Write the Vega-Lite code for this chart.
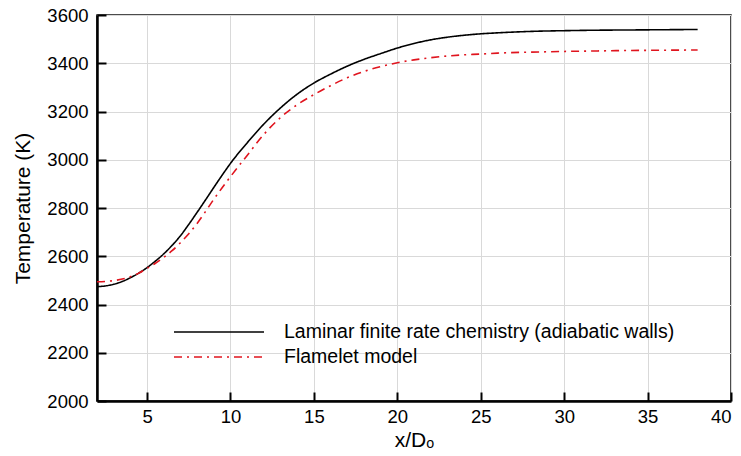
{
  "$schema": "https://vega.github.io/schema/vega-lite/v6.json",
  "width": 634,
  "height": 386,
  "autosize": {"type": "none"},
  "padding": {"left": 97, "top": 15, "right": 10, "bottom": 55},
  "background": "white",
  "config": {
    "font": "Liberation Sans",
    "view": {"stroke": "#111", "strokeWidth": 1.5},
    "axis": {
      "domainColor": "#000", "domainWidth": 2.5,
      "tickColor": "#000", "tickWidth": 2, "tickSize": -9,
      "gridColor": "#d9d9d9", "gridWidth": 1,
      "labelFont": "Liberation Sans", "labelFontSize": 18.5, "labelColor": "#000",
      "titleFont": "Liberation Sans", "titleFontSize": 21, "titleFontWeight": "normal", "titleColor": "#000"
    },
    "legend": {"padding": 0}
  },
  "data": {"values": [
    {"series": "Laminar finite rate chemistry (adiabatic walls)", "x": 2, "T": 2474},
    {"series": "Laminar finite rate chemistry (adiabatic walls)", "x": 2.5, "T": 2477},
    {"series": "Laminar finite rate chemistry (adiabatic walls)", "x": 3, "T": 2484},
    {"series": "Laminar finite rate chemistry (adiabatic walls)", "x": 3.5, "T": 2495},
    {"series": "Laminar finite rate chemistry (adiabatic walls)", "x": 4, "T": 2511},
    {"series": "Laminar finite rate chemistry (adiabatic walls)", "x": 4.5, "T": 2530},
    {"series": "Laminar finite rate chemistry (adiabatic walls)", "x": 5, "T": 2553},
    {"series": "Laminar finite rate chemistry (adiabatic walls)", "x": 5.5, "T": 2580},
    {"series": "Laminar finite rate chemistry (adiabatic walls)", "x": 6, "T": 2610},
    {"series": "Laminar finite rate chemistry (adiabatic walls)", "x": 6.5, "T": 2645},
    {"series": "Laminar finite rate chemistry (adiabatic walls)", "x": 7, "T": 2685},
    {"series": "Laminar finite rate chemistry (adiabatic walls)", "x": 7.5, "T": 2732},
    {"series": "Laminar finite rate chemistry (adiabatic walls)", "x": 8, "T": 2782},
    {"series": "Laminar finite rate chemistry (adiabatic walls)", "x": 8.5, "T": 2833},
    {"series": "Laminar finite rate chemistry (adiabatic walls)", "x": 9, "T": 2885},
    {"series": "Laminar finite rate chemistry (adiabatic walls)", "x": 9.5, "T": 2936},
    {"series": "Laminar finite rate chemistry (adiabatic walls)", "x": 10, "T": 2985},
    {"series": "Laminar finite rate chemistry (adiabatic walls)", "x": 11, "T": 3070},
    {"series": "Laminar finite rate chemistry (adiabatic walls)", "x": 12, "T": 3148},
    {"series": "Laminar finite rate chemistry (adiabatic walls)", "x": 13, "T": 3215},
    {"series": "Laminar finite rate chemistry (adiabatic walls)", "x": 14, "T": 3272},
    {"series": "Laminar finite rate chemistry (adiabatic walls)", "x": 15, "T": 3318},
    {"series": "Laminar finite rate chemistry (adiabatic walls)", "x": 16, "T": 3355},
    {"series": "Laminar finite rate chemistry (adiabatic walls)", "x": 17, "T": 3388},
    {"series": "Laminar finite rate chemistry (adiabatic walls)", "x": 18, "T": 3416},
    {"series": "Laminar finite rate chemistry (adiabatic walls)", "x": 19, "T": 3440},
    {"series": "Laminar finite rate chemistry (adiabatic walls)", "x": 20, "T": 3463},
    {"series": "Laminar finite rate chemistry (adiabatic walls)", "x": 21, "T": 3482},
    {"series": "Laminar finite rate chemistry (adiabatic walls)", "x": 22, "T": 3497},
    {"series": "Laminar finite rate chemistry (adiabatic walls)", "x": 23, "T": 3508},
    {"series": "Laminar finite rate chemistry (adiabatic walls)", "x": 24, "T": 3516},
    {"series": "Laminar finite rate chemistry (adiabatic walls)", "x": 25, "T": 3522},
    {"series": "Laminar finite rate chemistry (adiabatic walls)", "x": 26, "T": 3526},
    {"series": "Laminar finite rate chemistry (adiabatic walls)", "x": 28, "T": 3532},
    {"series": "Laminar finite rate chemistry (adiabatic walls)", "x": 30, "T": 3535},
    {"series": "Laminar finite rate chemistry (adiabatic walls)", "x": 32, "T": 3537},
    {"series": "Laminar finite rate chemistry (adiabatic walls)", "x": 34, "T": 3538},
    {"series": "Laminar finite rate chemistry (adiabatic walls)", "x": 36, "T": 3539},
    {"series": "Laminar finite rate chemistry (adiabatic walls)", "x": 38, "T": 3540},
    {"series": "Flamelet model", "x": 2, "T": 2494},
    {"series": "Flamelet model", "x": 3, "T": 2499},
    {"series": "Flamelet model", "x": 4, "T": 2515},
    {"series": "Flamelet model", "x": 4.5, "T": 2530},
    {"series": "Flamelet model", "x": 5, "T": 2550},
    {"series": "Flamelet model", "x": 5.5, "T": 2571},
    {"series": "Flamelet model", "x": 6, "T": 2595},
    {"series": "Flamelet model", "x": 6.5, "T": 2623},
    {"series": "Flamelet model", "x": 7, "T": 2656},
    {"series": "Flamelet model", "x": 7.5, "T": 2693},
    {"series": "Flamelet model", "x": 8, "T": 2736},
    {"series": "Flamelet model", "x": 8.5, "T": 2785},
    {"series": "Flamelet model", "x": 9, "T": 2836},
    {"series": "Flamelet model", "x": 9.5, "T": 2884},
    {"series": "Flamelet model", "x": 10, "T": 2930},
    {"series": "Flamelet model", "x": 11, "T": 3018},
    {"series": "Flamelet model", "x": 12, "T": 3105},
    {"series": "Flamelet model", "x": 13, "T": 3175},
    {"series": "Flamelet model", "x": 14, "T": 3228},
    {"series": "Flamelet model", "x": 15, "T": 3270},
    {"series": "Flamelet model", "x": 16, "T": 3307},
    {"series": "Flamelet model", "x": 17, "T": 3340},
    {"series": "Flamelet model", "x": 18, "T": 3366},
    {"series": "Flamelet model", "x": 19, "T": 3386},
    {"series": "Flamelet model", "x": 20, "T": 3402},
    {"series": "Flamelet model", "x": 21, "T": 3414},
    {"series": "Flamelet model", "x": 22, "T": 3423},
    {"series": "Flamelet model", "x": 23, "T": 3430},
    {"series": "Flamelet model", "x": 24, "T": 3435},
    {"series": "Flamelet model", "x": 25, "T": 3438},
    {"series": "Flamelet model", "x": 26, "T": 3442},
    {"series": "Flamelet model", "x": 28, "T": 3446},
    {"series": "Flamelet model", "x": 30, "T": 3449},
    {"series": "Flamelet model", "x": 32, "T": 3451},
    {"series": "Flamelet model", "x": 34, "T": 3453},
    {"series": "Flamelet model", "x": 36, "T": 3454},
    {"series": "Flamelet model", "x": 38, "T": 3455}
  ]},
  "mark": {"type": "line", "strokeWidth": 1.6, "interpolate": "monotone"},
  "encoding": {
    "x": {
      "field": "x", "type": "quantitative",
      "scale": {"domain": [2, 40], "nice": false, "zero": false},
      "axis": {"values": [5, 10, 15, 20, 25, 30, 35, 40], "format": "d", "title": "x/Dₒ", "labelPadding": 15, "titlePadding": 4}
    },
    "y": {
      "field": "T", "type": "quantitative",
      "scale": {"domain": [2000, 3600], "nice": false, "zero": false},
      "axis": {"values": [2000, 2200, 2400, 2600, 2800, 3000, 3200, 3400, 3600], "format": "d", "title": "Temperature (K)", "labelPadding": 18, "titlePadding": 13}
    },
    "color": {
      "field": "series", "type": "nominal",
      "scale": {"domain": ["Laminar finite rate chemistry (adiabatic walls)", "Flamelet model"], "range": ["#000000", "#e0141e"]},
      "legend": {
        "title": null, "orient": "none", "legendX": 76, "legendY": 271,
        "values": ["Laminar finite rate chemistry (adiabatic walls)"],
        "symbolType": "stroke", "symbolSize": 8100, "symbolStrokeWidth": 1.6,
        "labelFontSize": 19.5, "labelFont": "Liberation Sans", "labelColor": "#000",
        "labelOffset": 19, "labelLimit": 0, "symbolOffset": 0
      }
    },
    "strokeDash": {
      "field": "series", "type": "nominal",
      "scale": {"domain": ["Flamelet model", "Laminar finite rate chemistry (adiabatic walls)"], "range": [[8, 5, 2, 5], [1, 0]]},
      "legend": {
        "title": null, "orient": "none", "legendX": 76, "legendY": 296,
        "values": ["Flamelet model"],
        "symbolType": "stroke", "symbolSize": 8100, "symbolStrokeWidth": 1.6,
        "symbolStrokeColor": "#e0141e",
        "labelFontSize": 19.5, "labelFont": "Liberation Sans", "labelColor": "#000",
        "labelOffset": 19, "labelLimit": 0, "symbolOffset": 0
      }
    }
  }
}
